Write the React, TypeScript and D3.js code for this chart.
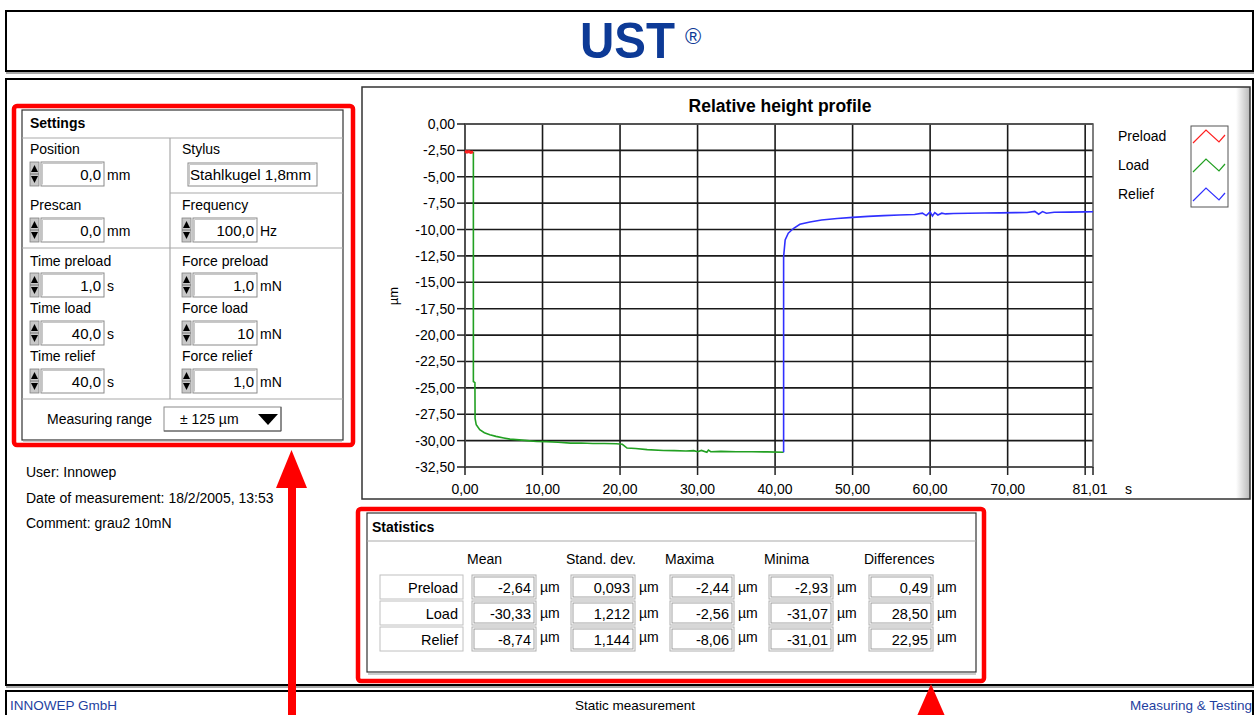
import React from "react";
import * as d3 from "d3";

// ---------- DATA ----------
const preloadT = [0, 0.25, 0.5, 0.75, 1.05];
const preloadV = [-2.58, -2.66, -2.62, -2.7, -2.64];

const loadT = [1.08, 1.08, 1.28, 1.3, 1.45, 1.9, 2.5, 3.2, 4.0, 5.0, 5.8, 7.0, 8.0, 9.25, 10.5, 12.0, 13.6, 15.0, 16.5, 18.0, 19.5, 20.3, 20.9, 22.0, 23.5, 25.6, 27.0, 28.5, 29.5, 30.0, 30.5, 31.2, 31.4, 31.7, 33.0, 35.0, 37.0, 39.0, 41.1];
const loadV = [-2.64, -24.4, -24.5, -27.9, -28.5, -28.97, -29.25, -29.45, -29.6, -29.75, -29.86, -29.93, -30.0, -30.08, -30.1, -30.15, -30.24, -30.22, -30.28, -30.27, -30.3, -30.35, -30.7, -30.75, -30.85, -30.93, -30.95, -30.98, -30.95, -31.05, -30.93, -31.1, -30.9, -31.05, -31.02, -31.05, -31.06, -31.07, -31.1];

const reliefT = [41.1, 41.1, 41.3, 41.7, 42.4, 43.2, 44.5, 46, 48, 50, 52, 54, 56, 58, 59, 59.5, 60, 60.3, 60.6, 61, 61.5, 62, 63, 65, 67, 69, 71, 72.5, 73.5, 74, 74.5, 75, 76, 78, 80, 81.01];
const reliefV = [-31.1, -12.57, -10.98, -10.35, -9.88, -9.5, -9.28, -9.1, -8.95, -8.85, -8.75, -8.68, -8.62, -8.57, -8.45, -8.68, -8.32, -8.72, -8.4, -8.62, -8.45, -8.52, -8.48, -8.45, -8.43, -8.42, -8.4, -8.38, -8.28, -8.55, -8.3, -8.45, -8.36, -8.35, -8.33, -8.32];

const yTicks = [0, -2.5, -5, -7.5, -10, -12.5, -15, -17.5, -20, -22.5, -25, -27.5, -30, -32.5];
const xGrid = [0, 10, 20, 30, 40, 50, 60, 70, 80];
const xLabelTicks = [0, 10, 20, 30, 40, 50, 60, 70];
const xEnd = 81.01;

const seriesNames = ["Preload", "Load", "Relief"];
const seriesColors = ["#ff2020", "#22a022", "#3030ff"];

const statColumns = ["Mean", "Stand. dev.", "Maxima", "Minima", "Differences"];
const statPreload = ["-2,64", "0,093", "-2,44", "-2,93", "0,49"];
const statLoad = ["-30,33", "1,212", "-2,56", "-31,07", "28,50"];
const statRelief = ["-8,74", "1,144", "-8,06", "-31,01", "22,95"];

const infoLines = ["User: Innowep", "Date of measurement: 18/2/2005, 13:53", "Comment: grau2 10mN"];

// ---------- HELPERS ----------
const FONT = "'Liberation Sans', Arial, sans-serif";
const FS = 14;

function InputBox({ x, y, w, h, value, unit, spinner = true }: any) {
  return (
    <g>
      {spinner && (
        <g>
          <rect x={x - 11} y={y} width={9} height={h} fill="#c8c8c8" stroke="#808080" strokeWidth={0.8} />
          <line x1={x - 11} x2={x - 2} y1={y + h / 2} y2={y + h / 2} stroke="#606060" strokeWidth={0.8} />
          <path d={`M${x - 10},${y + h / 2 - 2} L${x - 3},${y + h / 2 - 2} L${x - 6.5},${y + 3} Z`} fill="#000" />
          <path d={`M${x - 10},${y + h / 2 + 2} L${x - 3},${y + h / 2 + 2} L${x - 6.5},${y + h - 3} Z`} fill="#000" />
        </g>
      )}
      <rect x={x} y={y} width={w} height={h} fill="#fff" stroke="#8a8a8a" strokeWidth={1} />
      <path d={`M${x + 1.5},${y + h - 1.5} L${x + 1.5},${y + 1.5} L${x + w - 1.5},${y + 1.5}`} fill="none" stroke="#c8c8c8" strokeWidth={1} />
      <text x={x + w - 3} y={y + h - 6} textAnchor="end" fontSize={15} fontFamily={FONT}>{value}</text>
      {unit && <text x={x + w + 3} y={y + h - 6} fontSize={FS} fontFamily={FONT}>{unit}</text>}
    </g>
  );
}

function StatBox({ x, y, w, h, value }: any) {
  return (
    <g>
      <rect x={x} y={y} width={w} height={h} fill="#fff" stroke="#b0b0b0" strokeWidth={1} />
      <rect x={x + 2} y={y + 2} width={w - 4} height={h - 4} fill="#fff" stroke="#8a8a8a" strokeWidth={0.8} />
      <text x={x + w - 5} y={y + h - 6} textAnchor="end" fontSize={14.5} fontFamily={FONT}>{value}</text>
    </g>
  );
}

export default function App() {
  const plotL = 465, plotR = 1093, plotT = 124, plotB = 467;
  const xS = d3.scaleLinear().domain([0, xEnd]).range([plotL, plotR]);
  const yS = d3.scaleLinear().domain([-32.5, 0]).range([plotB, plotT]);
  const fmt = (v: number) => d3.format(".2f")(v).replace(".", ",").replace("−", "-");
  const line = d3.line<[number, number]>().x((d) => xS(d[0])).y((d) => yS(d[1]));
  const series = [
    d3.zip(preloadT, preloadV) as [number, number][],
    d3.zip(loadT, loadV) as [number, number][],
    d3.zip(reliefT, reliefV) as [number, number][],
  ];
  const statRows = [statPreload, statLoad, statRelief];
  const statColX = [472, 571, 670, 769, 869];
  const statHeadX = [467, 566, 665, 764, 864];
  const rowY = [575, 601, 627];

  return (
    <svg width={1257} height={715} style={{ position: "absolute", left: 0, top: 0, background: "#fff" }} fontFamily={FONT}>
      <defs>
        <linearGradient id="shade" x1="0" x2="1" y1="0" y2="0">
          <stop offset="0" stopColor="#ffffff" />
          <stop offset="1" stopColor="#b8b8b8" />
        </linearGradient>
      </defs>
      <rect x={0} y={0} width={1257} height={715} fill="#fff" />

      {/* Header */}
      <rect x={6} y={11} width={1247} height={60} fill="#fff" stroke="#000" strokeWidth={2} />
      <line x1={6} x2={1254} y1={73} y2={73} stroke="#a8a8a8" strokeWidth={2} />
      <text x={580} y={58} fontSize={50} fontWeight="bold" fill="#0d3a96" textLength={95} lengthAdjust="spacingAndGlyphs" fontFamily="'Liberation Sans Narrow', 'Liberation Sans', Arial">UST</text>
      <text x={685} y={44} fontSize={22} fill="#0d3a96">®</text>

      {/* Main panel */}
      <rect x={6} y={79} width={1247} height={606} fill="#fff" stroke="#000" strokeWidth={2} />
      <line x1={6} x2={1254} y1={687} y2={687} stroke="#a8a8a8" strokeWidth={2} />

      {/* Chart panel */}
      <rect x={1236} y={87} width={14} height={412} fill="url(#shade)" />
      <rect x={362} y={87} width={888} height={412} fill="none" stroke="#333" strokeWidth={1.5} />
      <text x={780} y={112} textAnchor="middle" fontSize={17.5} fontWeight="bold">Relative height profile</text>

      {/* Grid */}
      {yTicks.map((t) => (
        <line key={"gy" + t} x1={plotL} x2={plotR} y1={yS(t)} y2={yS(t)} stroke="#1a1a1a" strokeWidth={1.6} />
      ))}
      {xGrid.map((t) => (
        <line key={"gx" + t} x1={xS(t)} x2={xS(t)} y1={plotT} y2={plotB} stroke="#1a1a1a" strokeWidth={1.6} />
      ))}
      <rect x={plotL} y={plotT} width={plotR - plotL} height={plotB - plotT} fill="none" stroke="#555" strokeWidth={1.5} />

      {/* Y axis */}
      {yTicks.map((t) => (
        <g key={"yt" + t}>
          <line x1={plotL - 8} x2={plotL} y1={yS(t)} y2={yS(t)} stroke="#222" strokeWidth={1.5} />
          <text x={plotL - 10} y={yS(t) + 5} textAnchor="end" fontSize={14}>{fmt(t)}</text>
        </g>
      ))}
      <text transform={`translate(398,296) rotate(-90)`} textAnchor="middle" fontSize={13}>µm</text>

      {/* X axis */}
      {[...xGrid, xEnd].map((t) => (
        <line key={"xt" + t} x1={xS(t)} x2={xS(t)} y1={plotB} y2={plotB + 8} stroke="#222" strokeWidth={1.5} />
      ))}
      {[...xLabelTicks, xEnd].map((t) => (
        <text key={"xl" + t} x={xS(t) - (t === xEnd ? 3 : 0)} y={494} textAnchor="middle" fontSize={14}>{fmt(t)}</text>
      ))}
      <text x={1125} y={494} fontSize={14}>s</text>

      {/* Curves */}
      <path d={line(series[1]) || ""} fill="none" stroke={seriesColors[1]} strokeWidth={1.6} />
      <path d={line(series[2]) || ""} fill="none" stroke={seriesColors[2]} strokeWidth={1.6} />
      <path d={line(series[0]) || ""} fill="none" stroke={seriesColors[0]} strokeWidth={3} />

      {/* Legend */}
      {seriesNames.map((n, i) => (
        <text key={n} x={1118} y={141 + i * 29} fontSize={14}>{n}</text>
      ))}
      <rect x={1191} y={126} width={37} height={81} fill="#fff" stroke="#555" strokeWidth={1} />
      {seriesColors.map((c, i) => (
        <path key={c} d={`M1193,${143 + i * 29} L1206,${130 + i * 29} L1219,${142 + i * 29} L1225,${135 + i * 29}`} fill="none" stroke={c} strokeWidth={1.2} />
      ))}

      {/* Settings panel */}
      <rect x={22} y={110} width={321} height={330} fill="#fff" stroke="#333" strokeWidth={1.2} />
      <line x1={23} x2={342} y1={441} y2={441} stroke="#999" />
      <text x={30} y={128} fontSize={FS} fontWeight="bold">Settings</text>
      <line x1={22} x2={343} y1={138} y2={138} stroke="#aaa" strokeWidth={1.2} />
      <line x1={170} x2={170} y1={138} y2={399} stroke="#aaa" strokeWidth={1.2} />
      <line x1={170} x2={343} y1={193} y2={193} stroke="#aaa" strokeWidth={1.2} />
      <line x1={22} x2={343} y1={248} y2={248} stroke="#aaa" strokeWidth={1.2} />
      <line x1={22} x2={343} y1={399} y2={399} stroke="#aaa" strokeWidth={1.2} />

      <text x={30} y={154} fontSize={FS}>Position</text>
      <InputBox x={41} y={162} w={63} h={24} value="0,0" unit="mm" />
      <text x={30} y={210} fontSize={FS}>Prescan</text>
      <InputBox x={41} y={218} w={63} h={24} value="0,0" unit="mm" />
      <text x={182} y={154} fontSize={FS}>Stylus</text>
      <rect x={188} y={163} width={129} height={23} fill="#fff" stroke="#8a8a8a" />
      <path d="M189.5,184.5 L189.5,164.5 L315.5,164.5" fill="none" stroke="#c8c8c8" />
      <text x={190} y={180} fontSize={14.5} textLength={121} lengthAdjust="spacingAndGlyphs">Stahlkugel 1,8mm</text>
      <text x={182} y={210} fontSize={FS}>Frequency</text>
      <InputBox x={193} y={218} w={64} h={24} value="100,0" unit="Hz" />

      <text x={30} y={266} fontSize={FS}>Time preload</text>
      <InputBox x={41} y={273} w={63} h={24} value="1,0" unit="s" />
      <text x={182} y={266} fontSize={FS}>Force preload</text>
      <InputBox x={193} y={273} w={64} h={24} value="1,0" unit="mN" />
      <text x={30} y={313} fontSize={FS}>Time load</text>
      <InputBox x={41} y={321} w={63} h={24} value="40,0" unit="s" />
      <text x={182} y={313} fontSize={FS}>Force load</text>
      <InputBox x={193} y={321} w={64} h={24} value="10" unit="mN" />
      <text x={30} y={361} fontSize={FS}>Time relief</text>
      <InputBox x={41} y={369} w={63} h={24} value="40,0" unit="s" />
      <text x={182} y={361} fontSize={FS}>Force relief</text>
      <InputBox x={193} y={369} w={64} h={24} value="1,0" unit="mN" />

      <text x={47} y={424} fontSize={FS}>Measuring range</text>
      <rect x={164} y={407} width={117} height={24} fill="#fff" stroke="#8a8a8a" />
      <line x1={164} x2={281} y1={431} y2={431} stroke="#555" />
      <line x1={281} x2={281} y1={407} y2={431} stroke="#555" />
      <text x={180} y={424} fontSize={FS}>± 125 µm</text>
      <path d="M258,414 L278,414 L268,425 Z" fill="#000" />

      <rect x={14} y={106} width={339} height={339} rx={3} fill="none" stroke="#ff0000" strokeWidth={4.5} />

      {/* Info text */}
      {infoLines.map((s, i) => (
        <text key={s} x={26} y={477 + i * 25.5} fontSize={FS}>{s}</text>
      ))}

      {/* Statistics panel */}
      <rect x={367} y={513} width={609} height={159} fill="#fff" stroke="#333" strokeWidth={1.2} />
      <line x1={368} x2={976} y1={674} y2={674} stroke="#999" />
      <text x={372} y={532} fontSize={FS} fontWeight="bold">Statistics</text>
      <line x1={367} x2={976} y1={541} y2={541} stroke="#aaa" strokeWidth={1.2} />
      {statColumns.map((c, i) => (
        <text key={c} x={statHeadX[i]} y={564} fontSize={FS}>{c}</text>
      ))}
      {seriesNames.map((n, r) => (
        <g key={"row" + n}>
          <rect x={380} y={rowY[r]} width={83} height={24} fill="#fff" stroke="#c0c0c0" />
          <text x={458} y={rowY[r] + 18} textAnchor="end" fontSize={14.5}>{n}</text>
          {statRows[r].map((v, c) => (
            <g key={"c" + c}>
              <StatBox x={statColX[c]} y={rowY[r]} w={64} h={24} value={v} />
              <text x={statColX[c] + 68} y={rowY[r] + (r === 2 ? 15 : 17)} fontSize={FS}>µm</text>
            </g>
          ))}
        </g>
      ))}
      <rect x={358} y={509} width={626} height={172} rx={3} fill="none" stroke="#ff0000" strokeWidth={4.5} />

      {/* Footer */}
      <rect x={6} y={691} width={1247} height={30} fill="#fff" stroke="#000" strokeWidth={2} />
      <text x={10} y={710} fontSize={13.5} fill="#1f3f9f">INNOWEP GmbH</text>
      <text x={635} y={710} fontSize={13.5} textAnchor="middle">Static measurement</text>
      <text x={1252} y={710} fontSize={13.5} textAnchor="end" fill="#1f3f9f">Measuring &amp; Testing</text>

      {/* Red arrows */}
      <rect x={288} y={484} width={8} height={240} fill="#ff0000" />
      <path d="M276,488 L291.5,450 L307,488 Z" fill="#ff0000" />
      <path d="M917,716 L931,684 L945,716 Z" fill="#ff0000" />
    </svg>
  );
}
